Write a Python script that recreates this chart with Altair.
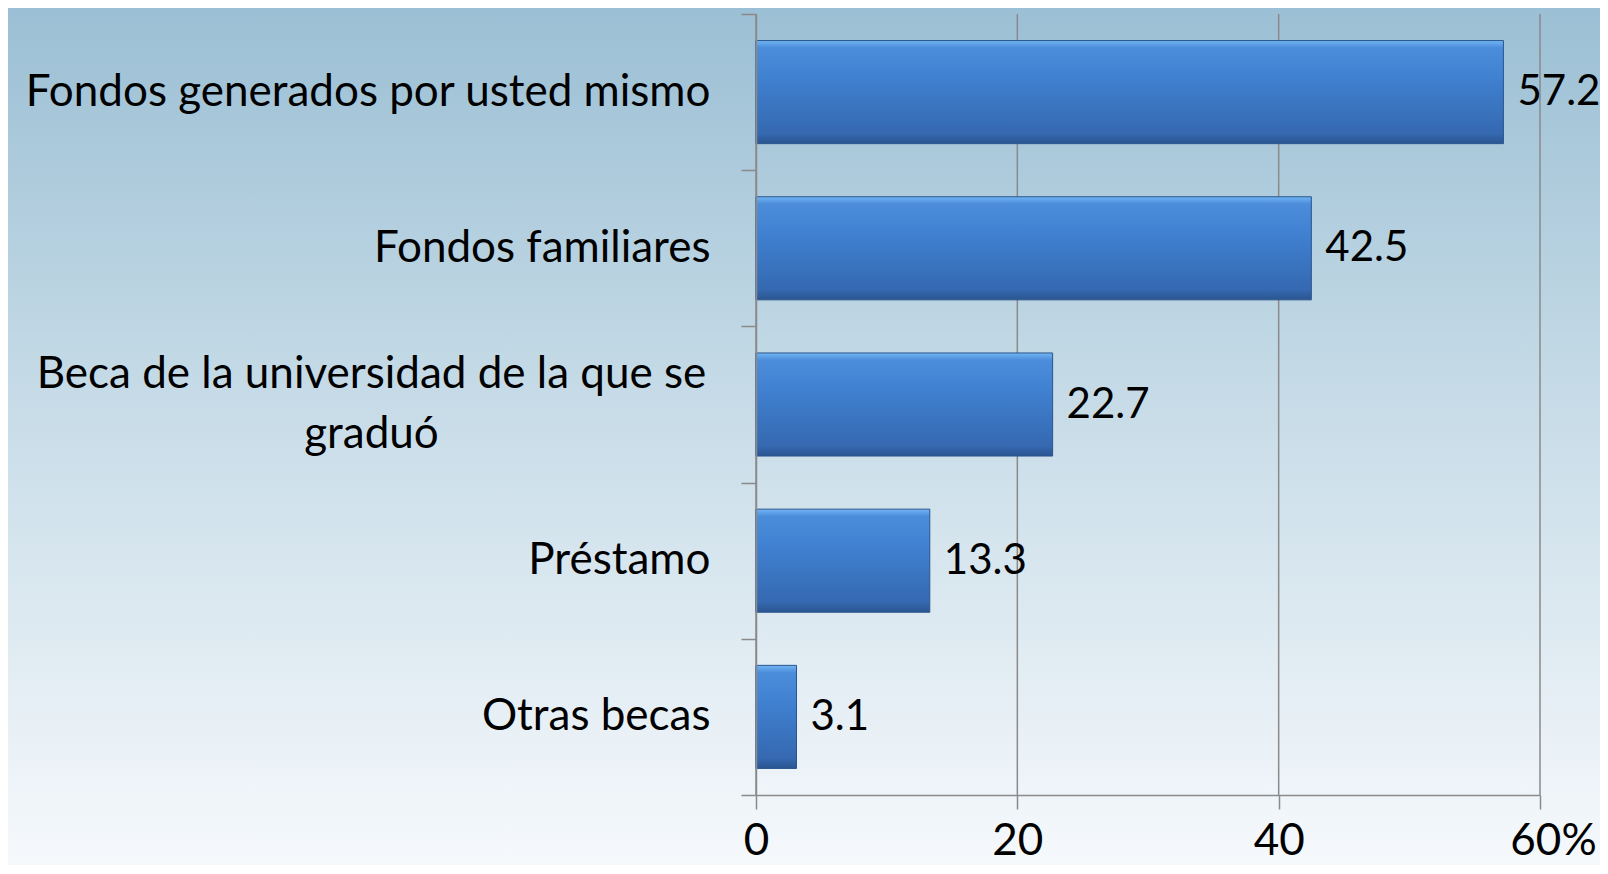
import altair as alt
import pandas as pd

categories = [
    "Fondos generados por usted mismo",
    "Fondos familiares",
    "Beca de la universidad de la que se graduó",
    "Préstamo",
    "Otras becas",
]
values = [57.2, 42.5, 22.7, 13.3, 3.1]
x_ticks = [0, 20, 40, 60]

df = pd.DataFrame({"cat": categories, "val": values})
grid_df = pd.DataFrame({"g": x_ticks})
bg_df = pd.DataFrame({"k": [0]})

W, H = 784, 781
PAD = {"left": 748, "top": 6, "right": 60, "bottom": 70}
FONT = "Lato"
FS = 44
GRAY = "#8a8a8a"
WRAP = "Beca de la universidad de la que se graduó"

x_axis = alt.Axis(
    values=x_ticks,
    grid=False,
    title=None,
    labelFont=FONT,
    labelFontSize=FS,
    labelColor="black",
    labelFlush=False,
    labelPadding=10,
    tickSize=14,
    tickColor=GRAY,
    tickWidth=1.5,
    domainColor=GRAY,
    domainWidth=1.5,
    labelExpr="datum.value == 60 ? '60%' : datum.label",
    labelOffset={"condition": {"test": "datum.value == 60", "value": 13}, "value": 0},
    zindex=1,
)
x_scale = alt.Scale(domain=[0, 60], nice=False, zero=True)

bg_grad = alt.Gradient(
    gradient="linear",
    stops=[
        alt.GradientStop(color="#9bbfd4", offset=0),
        alt.GradientStop(color="#c6dbe7", offset=0.45),
        alt.GradientStop(color="#f6f9fc", offset=1),
    ],
    x1=0, x2=0, y1=0, y2=1,
)
bar_grad = alt.Gradient(
    gradient="linear",
    stops=[
        alt.GradientStop(color="#72b5f3", offset=0),
        alt.GradientStop(color="#4c8ddb", offset=0.07),
        alt.GradientStop(color="#4081d1", offset=0.35),
        alt.GradientStop(color="#3569b1", offset=0.9),
        alt.GradientStop(color="#2b5590", offset=1),
    ],
    x1=0, x2=0, y1=0, y2=1,
)

background = alt.Chart(bg_df).mark_rect(fill=bg_grad).encode(
    x=alt.value(-PAD["left"]),
    x2=alt.value(W + PAD["right"]),
    y=alt.value(-PAD["top"]),
    y2=alt.value(H + PAD["bottom"]),
)

grid = alt.Chart(grid_df).mark_rule(color=GRAY, strokeWidth=1.5).encode(
    x=alt.X("g:Q", scale=x_scale, axis=x_axis),
)

cond_wrap = f"datum.value == '{WRAP}'"
y_enc = alt.Y(
    "cat:N",
    sort=categories,
    scale=alt.Scale(paddingInner=0, paddingOuter=0),
    axis=alt.Axis(
        title=None,
        labelFont=FONT,
        labelFontSize=FS,
        labelColor="black",
        labelLimit=0,
        labelLineHeight=60,
        labelBaseline="middle",
        labelAlign={"condition": {"test": cond_wrap, "value": "center"}, "value": "right"},
        labelPadding={"condition": {"test": cond_wrap, "value": 370}, "value": 31},
        labelOffset={"condition": {"test": cond_wrap, "value": -30}, "value": 0},
        labelExpr=f"{cond_wrap} ? ['Beca de la universidad de la que se', 'graduó'] : datum.label",
        tickSize=15,
        tickBand="extent",
        tickColor=GRAY,
        tickWidth=1.5,
        domainColor=GRAY,
        domainWidth=1.5,
        zindex=1,
    ),
)

bars = alt.Chart(df).mark_bar(
    fill=bar_grad, stroke="#2a558e", strokeWidth=1, height={"band": 0.66}
).encode(
    x=alt.X("val:Q", scale=x_scale, axis=x_axis),
    y=y_enc,
)

labels = alt.Chart(df).mark_text(
    align="left", baseline="middle", dx=14, font=FONT, fontSize=42, color="black"
).encode(
    x=alt.X("val:Q", scale=x_scale, axis=x_axis),
    y=y_enc,
    text=alt.Text("val:Q", format=".1f"),
)

chart = (
    alt.layer(background, grid, bars, labels)
    .properties(width=W, height=H, padding=PAD, autosize=alt.AutoSizeParams(type="none"))
    .configure_view(stroke=None)
)

chart.save("out.html", embed_options={"renderer": "svg", "actions": False})
